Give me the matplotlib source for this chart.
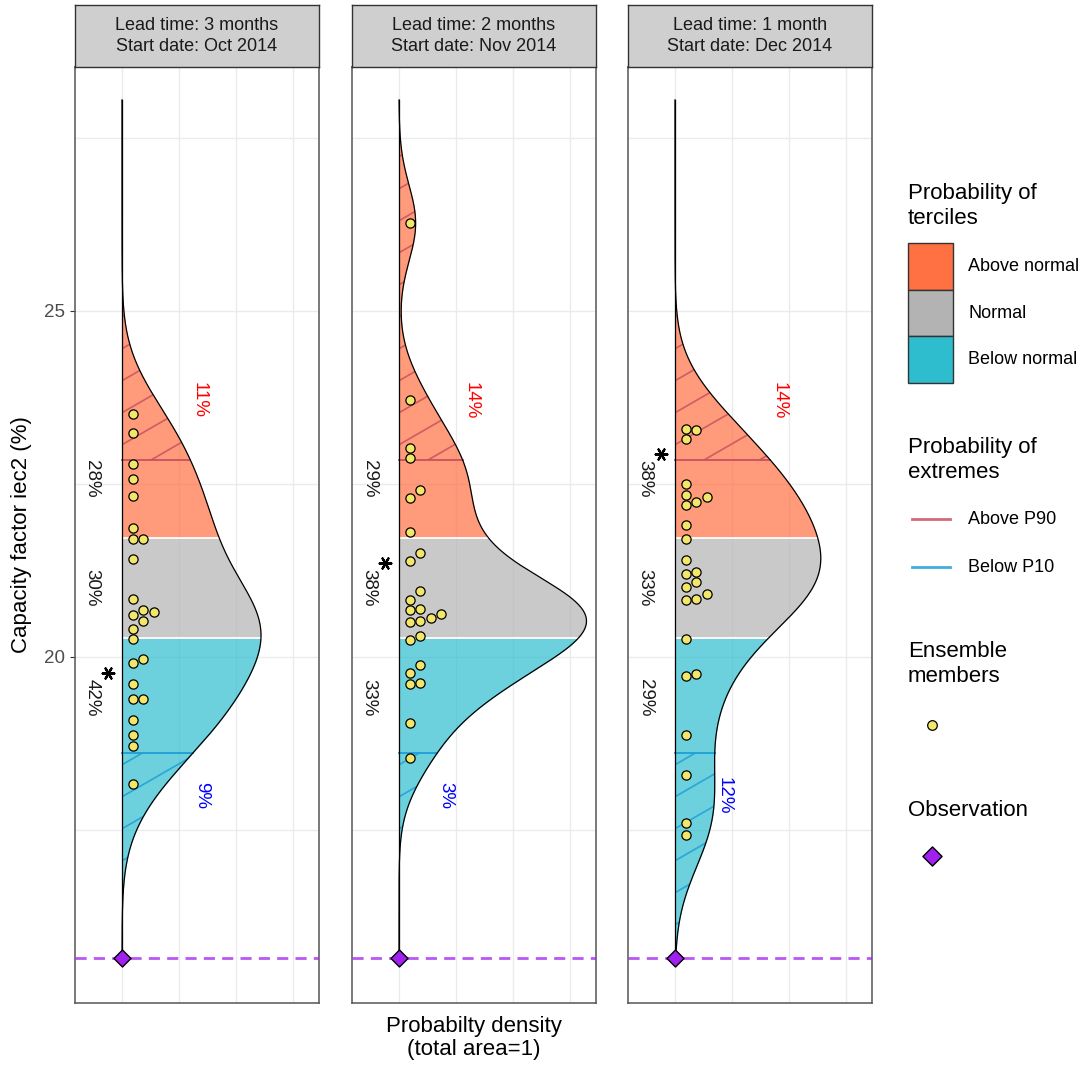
import numpy as np
import matplotlib.pyplot as plt
from matplotlib.patches import Rectangle, Polygon
from matplotlib.lines import Line2D
from matplotlib.collections import LineCollection

plt.rcParams['font.family'] = ['Liberation Sans', 'DejaVu Sans']

# ---------------- data ----------------
panel_titles = [
    "Lead time: 3 months\nStart date: Oct 2014",
    "Lead time: 2 months\nStart date: Nov 2014",
    "Lead time: 1 month\nStart date: Dec 2014",
]

# ensemble members, capacity factor (%)
members_oct = [23.51, 23.24, 22.79, 22.57, 22.33, 21.87, 21.71, 21.70, 21.42,
               20.84, 20.68, 20.65, 20.61, 20.52, 20.41, 20.26, 19.97, 19.92,
               19.61, 19.40, 19.39, 19.09, 18.87, 18.72, 18.16]
members_nov = [26.27, 23.71, 23.02, 22.87, 22.42, 22.30, 21.80, 21.51, 21.39,
               20.95, 20.82, 20.70, 20.68, 20.62, 20.57, 20.52, 20.50, 20.30,
               20.25, 19.88, 19.77, 19.63, 19.61, 19.04, 18.54]
members_dec = [23.30, 23.28, 23.15, 22.50, 22.34, 22.31, 22.24, 22.19, 21.91,
               21.71, 21.40, 21.23, 21.20, 21.09, 21.01, 20.91, 20.84, 20.82,
               20.26, 19.75, 19.73, 18.87, 18.29, 17.60, 17.43]
members = [members_oct, members_nov, members_dec]

observation = 15.65
density_top = 28.05

# climatological thresholds
p10, p33, p67, p90 = 18.61, 20.27, 21.72, 22.85

# tercile probabilities (below, normal, above) in %
prob_below = [42, 33, 29]
prob_normal = [30, 38, 33]
prob_above = [28, 29, 38]
# extremes
prob_below_p10 = [9, 3, 12]
prob_above_p90 = [11, 14, 14]

y_major = [20, 25]
y_minor = [17.5, 22.5, 27.5]

# ---------------- style ----------------
col_above = '#FF7043'
col_normal = '#B3B3B3'
col_below = '#2EBDCF'
col_p90 = '#C9505F'
col_p10 = '#1E9FD8'
fill_alpha = 0.7
dot_color = '#F2E66B'
obs_color = '#A020F0'
grid_color = '#EBEBEB'

W, H = 1090, 1065
panel_x = [(75, 319), (352, 596), (628, 872)]
panel_top, panel_bottom = 67, 1003
strip_top = 5
u = 0.1            # density step between vertical grid lines
px_per_u = 57.0
zero_px = 47.0


def fig_rect(x0, y0, x1, y1):
    return [x0 / W, 1 - y1 / H, (x1 - x0) / W, (y1 - y0) / H]


def kde(values, grid):
    v = np.asarray(values)
    n = len(v)
    sd = v.std(ddof=1)
    q75, q25 = np.percentile(v, [75, 25])
    bw = 0.9 * min(sd, (q75 - q25) / 1.34) * n ** -0.2
    z = (grid[:, None] - v[None, :]) / bw
    return np.exp(-0.5 * z ** 2).sum(axis=1) / (n * bw * np.sqrt(2 * np.pi))


def swarm_x(values, ax, x0_px=11.0, step_px=10.3, diam_px=9.5):
    # place points in columns to the right of zero, avoiding overlaps
    values = np.asarray(values)
    to_px = ax.transData.transform
    ys = to_px(np.column_stack([np.zeros(len(values)), values]))[:, 1]
    cols = np.zeros(len(values), int)
    placed = []
    for i in np.argsort(values):
        k = 0
        while any(np.hypot((k - cols[j]) * step_px, ys[i] - ys[j]) < diam_px
                  for j in placed):
            k += 1
        cols[i] = k
        placed.append(i)
    x_px = to_px([[0, 0]])[0, 0] + x0_px + cols * step_px
    inv = ax.transData.inverted()
    return inv.transform(np.column_stack([x_px, np.zeros(len(values))]))[:, 0]


def hatch(ax, y, d, mask, color):
    # diagonal stripes clipped to a region under the density curve
    yy, dd = y[mask], d[mask]
    verts = [(0, yy[0])] + list(zip(dd, yy)) + [(0, yy[-1])]
    poly = Polygon(verts, closed=True, fill=False, edgecolor='none')
    ax.add_patch(poly)
    x0, x1 = ax.get_xlim()
    y0, y1 = ax.get_ylim()
    sx = px_per_u / u
    sy = (panel_bottom - panel_top) / (y1 - y0)
    slope = np.tan(np.radians(30)) * sx / sy
    spacing = 32.0 / sy
    segs = []
    c = y0 - slope * (x1 - x0) - spacing
    while c < y1 + spacing:
        segs.append([(x0, c), (x1, c + slope * (x1 - x0))])
        c += spacing
    lc = LineCollection(segs, colors=color, linewidths=1.2, alpha=0.85, zorder=2.5)
    ax.add_collection(lc)
    lc.set_clip_path(poly)


fig = plt.figure(figsize=(W / 100, H / 100), dpi=100)

y_lo = 20 - (panel_bottom - 657) / 69.2
y_hi = 20 + (657 - panel_top) / 69.2
sy_px = (panel_bottom - panel_top) / (y_hi - y_lo)

for i, (x0, x1) in enumerate(panel_x):
    ax = fig.add_axes(fig_rect(x0, panel_top, x1, panel_bottom))
    ax.set_xlim(-zero_px / px_per_u * u, (x1 - x0 - zero_px) / px_per_u * u)
    ax.set_ylim(y_lo, y_hi)
    ax.set_xticks([0, u, 2 * u, 3 * u])
    ax.set_yticks(y_major)
    ax.set_yticks(y_minor, minor=True)
    ax.grid(True, which='both', color=grid_color, lw=1.0, zorder=0)
    ax.set_axisbelow(True)
    ax.tick_params(axis='x', length=0, labelbottom=False)
    ax.tick_params(axis='y', which='minor', length=0)
    if i == 0:
        ax.tick_params(axis='y', which='major', length=3.5, color='#333333',
                       labelsize=13.5, labelcolor='#4D4D4D')
    else:
        ax.tick_params(axis='y', which='major', length=0, labelleft=False)
    for s in ax.spines.values():
        s.set_color('#555555')
        s.set_linewidth(1.1)

    y = np.union1d(np.linspace(observation, density_top, 1200), [p10, p33, p67, p90])
    d = kde(members[i], y)

    # tercile fills
    ax.fill_betweenx(y, 0, d, where=y <= p33, color=col_below, alpha=fill_alpha, lw=0, zorder=2)
    ax.fill_betweenx(y, 0, d, where=(y >= p33) & (y <= p67), color=col_normal, alpha=fill_alpha, lw=0, zorder=2)
    ax.fill_betweenx(y, 0, d, where=y >= p67, color=col_above, alpha=fill_alpha, lw=0, zorder=2)
    for t in (p33, p67):
        ax.plot([0, np.interp(t, y, d)], [t, t], color='white', lw=1.3, zorder=2.6)

    # extremes
    hatch(ax, y, d, y >= p90, col_p90)
    hatch(ax, y, d, y <= p10, col_p10)
    ax.plot([0, np.interp(p90, y, d)], [p90, p90], color=col_p90, lw=1.3, zorder=2.7)
    ax.plot([0, np.interp(p10, y, d)], [p10, p10], color=col_p10, lw=1.3, zorder=2.7)

    # density outline
    ax.plot(d, y, color='black', lw=0.9, zorder=3)
    ax.plot([0, 0], [observation, density_top], color='black', lw=0.9, zorder=3)

    # observation
    ax.axhline(observation, color=obs_color, lw=2.0, dashes=(4, 2.6), alpha=0.75, zorder=3)
    ax.scatter([0], [observation], marker='D', s=75, facecolor=obs_color,
               edgecolor='black', lw=1.0, zorder=5, clip_on=False)

    # ensemble members
    xs = swarm_x(members[i], ax)
    ax.scatter(xs, members[i], s=44, facecolor=dot_color, edgecolor='black',
               lw=0.9, zorder=4)

    # tercile probability labels, most likely category marked with an asterisk
    probs = [prob_below[i], prob_normal[i], prob_above[i]]
    mid = (p33 + p67) / 2
    off = 1.09 * (p67 - p33)
    lab_x = -30 / px_per_u * u
    best = int(np.argmax(probs))
    for k, yl in enumerate([mid - off, mid, mid + off]):
        ax.text(lab_x, yl, f"{probs[k]}%", rotation=270, ha='center', va='center',
                fontsize=13.5, color='#1A1A1A', zorder=6)
        if k == best:
            ax.scatter([lab_x + 16 / px_per_u * u], [yl + 25 / sy_px], marker=(6, 2, 90),
                       s=70, color='black', lw=1.6, zorder=6)

    # extreme probability labels
    ax.text(np.interp(p90, y, d) + 9 / px_per_u * u, p90 + 0.86, f"{prob_above_p90[i]}%",
            rotation=270, ha='center', va='center', fontsize=13.5, color='#FF0000', zorder=6)
    ax.text(np.interp(p10, y, d) + 9 / px_per_u * u, p10 - 0.61, f"{prob_below_p10[i]}%",
            rotation=270, ha='center', va='center', fontsize=13.5, color='#0000FF', zorder=6)

    # strip
    sax = fig.add_axes(fig_rect(x0, strip_top, x1, panel_top))
    sax.set_facecolor('#CFCFCF')
    sax.set_xticks([])
    sax.set_yticks([])
    for s in sax.spines.values():
        s.set_color('#333333')
        s.set_linewidth(1.0)
    sax.text(0.5, 0.5, panel_titles[i], ha='center', va='center', fontsize=13,
             color='#1A1A1A', transform=sax.transAxes, linespacing=1.3)

# axis titles
fig.text(22 / W, 1 - (panel_top + panel_bottom) / 2 / H, "Capacity factor iec2 (%)",
         rotation=90, ha='center', va='center', fontsize=16, color='black')
fig.text(474 / W, 1 - 1038 / H, "Probabilty density\n(total area=1)",
         ha='center', va='center', fontsize=16, color='black', linespacing=1.1)

# ---------------- legend (pixel coordinates) ----------------
lax = fig.add_axes([0, 0, 1, 1])
lax.set_xlim(0, W)
lax.set_ylim(H, 0)
lax.axis('off')
lax.patch.set_alpha(0)

tfs, lfs = 16, 13
lax.text(908, 206, "Probability of\nterciles", ha='left', va='center', fontsize=tfs)
for k, (c, lab) in enumerate([(col_above, "Above normal"), (col_normal, "Normal"),
                               (col_below, "Below normal")]):
    top = 243 + k * 46.5
    lax.add_patch(Rectangle((908, top), 45, 46.5, facecolor=c, edgecolor='#333333', lw=1.0))
    lax.text(968, top + 23.5, lab, ha='left', va='center', fontsize=lfs)

lax.text(908, 460, "Probability of\nextremes", ha='left', va='center', fontsize=tfs)
for yy, c, lab in [(519, col_p90, "Above P90"), (567, col_p10, "Below P10")]:
    lax.add_line(Line2D([912, 950], [yy, yy], color=c, lw=2.0, alpha=0.85))
    lax.text(968, yy, lab, ha='left', va='center', fontsize=lfs)

lax.text(908, 664, "Ensemble\nmembers", ha='left', va='center', fontsize=tfs)
lax.scatter([932], [725], s=48, facecolor=dot_color, edgecolor='black', lw=0.9)

lax.text(908, 810, "Observation", ha='left', va='center', fontsize=tfs)
lax.scatter([932], [856], marker='D', s=95, facecolor=obs_color, edgecolor='black', lw=1.0)

fig.savefig('out.png', dpi=100)
